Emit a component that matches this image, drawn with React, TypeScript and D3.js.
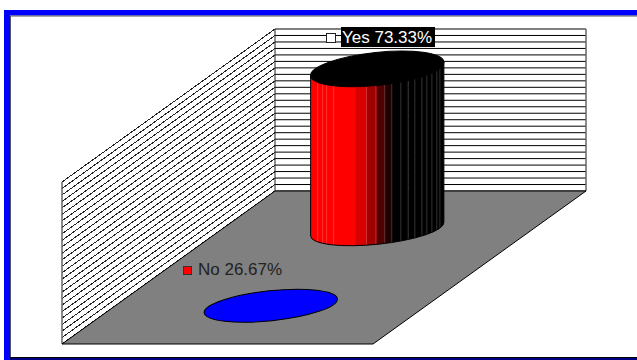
import React from "react";
import * as d3 from "d3";

// Share of answers per category
const categories = ["Yes", "No"];
const percentages = [73.33, 26.67];
const seriesFills = ["#ff0000", "#0000ff"];
const legendKeyFills = ["#ffffff", "#ff0000"];

// Value axis of the 3-D box and its number of grid intervals
const axisDomain = [26.67, 73.8];
const gridIntervals = 25;

// Cylinder side shading: left edge of each facet (fraction of diameter) and its colour
const facetStops = [0, 0.338, 0.42, 0.496, 0.556, 0.609, 0.677, 0.732, 0.782, 0.835, 0.872, 0.91, 0.947];
const facetShades = ["#ff0000", "#d80000", "#a00000", "#500000", "#200000", "#000000", "#000000", "#000000", "#000000", "#000000", "#000000", "#000000", "#000000"];
// Thin highlights between the narrow facets
const seamStops = [0.053, 0.09, 0.12, 0.173, 0.42, 0.49, 0.556, 0.609, 0.677, 0.732, 0.782, 0.835, 0.872, 0.91, 0.947, 0.97];

const WIDTH = 637;
const HEIGHT = 360;

// Box corners in screen space
const backLeft = { x: 275, y: 191 };
const wallHeight = 162;
const boxWidth = 311;
const depthDx = 213;
const depthDy = 153;

const heightScale = d3.scaleLinear().domain(axisDomain).range([0, wallHeight]);
const gridValues = d3.range(gridIntervals + 1).map((i) => i / gridIntervals);
const gridY = d3.scaleLinear().domain([0, 1]).range([backLeft.y, backLeft.y - wallHeight]);

// Depth position on the floor: 0 at the front edge, 1 at the back wall
const depthScale = d3.scaleBand().domain(["No", "Yes"]).range([0, 1]);

function floorPoint(u: number, v: number) {
  return {
    x: backLeft.x - depthDx + boxWidth * u + depthDx * v,
    y: backLeft.y + depthDy - depthDy * v,
  };
}

const RX = 67;
const RY = 15;
const CAP_RY = 16.5;
const TILT = -6;
const tiltRad = (TILT * Math.PI) / 180;
const edgeDx = RX * Math.cos(tiltRad);
const edgeDy = RX * Math.sin(tiltRad);

const line = d3.line();

export default function App() {
  const yesIdx = categories.indexOf("Yes");
  const noIdx = categories.indexOf("No");
  const v = (name: string) => depthScale(name)! + depthScale.bandwidth() / 2;
  const yesBase = floorPoint(0.5, v("Yes"));
  const noBase = floorPoint(0.5, v("No"));
  const yesH = heightScale(percentages[yesIdx]);
  const noH = heightScale(percentages[noIdx]);
  const topY = yesBase.y - yesH;

  const bodyPath =
    `M${yesBase.x - edgeDx},${topY - edgeDy}` +
    `L${yesBase.x - edgeDx},${yesBase.y - edgeDy}` +
    `A${RX},${RY} ${TILT} 0 0 ${yesBase.x + edgeDx},${yesBase.y + edgeDy}` +
    `L${yesBase.x + edgeDx},${topY + edgeDy}Z`;

  const facetX = d3
    .scaleLinear()
    .domain([0, 1])
    .range([yesBase.x - edgeDx, yesBase.x + edgeDx]);

  const floorPath =
    line([
      [backLeft.x, backLeft.y],
      [backLeft.x + boxWidth, backLeft.y],
      [backLeft.x + boxWidth - depthDx, backLeft.y + depthDy],
      [backLeft.x - depthDx, backLeft.y + depthDy],
    ]) + "Z";

  const top = backLeft.y - wallHeight;

  return (
    <svg
      width={WIDTH}
      height={HEIGHT}
      viewBox={`0 0 ${WIDTH} ${HEIGHT}`}
      style={{ position: "absolute", left: 0, top: 0, display: "block" }}
      fontFamily="'Liberation Sans', Arial, sans-serif"
    >
      <defs>
        <clipPath id="cylinder-side">
          <path d={bodyPath} />
        </clipPath>
      </defs>
      <rect width={WIDTH} height={HEIGHT} fill="#ffffff" />

      {/* Chart frame */}
      <rect x={4} y={10} width={WIDTH - 4} height={HEIGHT - 10} fill="#0000ff" />
      <rect x={10} y={358} width={WIDTH - 10} height={2} fill="#000080" />
      <rect x={10} y={15.5} width={WIDTH - 10} height={342} fill="#ffffff" />
      <path d={`M10.5,358V16H${WIDTH}`} fill="none" stroke="#555555" strokeWidth={1} />
      <path d={`M10,357.5H${WIDTH}`} fill="none" stroke="#000000" strokeWidth={1} />

      {/* Back and side wall grid */}
      {gridValues.map((t) => {
        const y = gridY(t);
        return (
          <g key={t} stroke="#000000" strokeWidth={1}>
            <line x1={backLeft.x} x2={backLeft.x + boxWidth} y1={y} y2={y} />
            <line x1={backLeft.x - depthDx} x2={backLeft.x} y1={y + depthDy} y2={y} shapeRendering="crispEdges" stroke="#222222" />
          </g>
        );
      })}
      <line x1={backLeft.x} x2={backLeft.x} y1={top} y2={backLeft.y} stroke="#222222" />
      <line x1={backLeft.x + boxWidth} x2={backLeft.x + boxWidth} y1={top} y2={backLeft.y} stroke="#666666" strokeWidth={1.5} />
      <line x1={backLeft.x - depthDx} x2={backLeft.x - depthDx} y1={top + depthDy} y2={backLeft.y + depthDy} stroke="#666666" strokeWidth={1.5} />

      {/* Floor */}
      <path d={floorPath} fill="#808080" stroke="#000000" strokeWidth={1} />

      {/* No: flat disc on the floor */}
      <ellipse
        cx={noBase.x}
        cy={noBase.y - noH}
        rx={RX}
        ry={RY}
        transform={`rotate(${TILT} ${noBase.x} ${noBase.y - noH})`}
        fill={seriesFills[noIdx]}
        stroke="#000000"
      />

      {/* Yes: cylinder */}
      <g clipPath="url(#cylinder-side)">
        {facetStops.map((s, i) => {
          const next = i + 1 < facetStops.length ? facetStops[i + 1] : 1;
          return (
            <rect
              key={s}
              x={facetX(s)}
              y={topY - RY * 2}
              width={facetX(next) - facetX(s) + 0.5}
              height={yesH + RY * 4}
              fill={i === 0 ? seriesFills[yesIdx] : facetShades[i]}
            />
          );
        })}
        {seamStops.map((s) => (
          <line
            key={s}
            x1={facetX(s)}
            x2={facetX(s)}
            y1={topY - RY * 2}
            y2={yesBase.y + RY * 2}
            stroke="#ffffff"
            strokeOpacity={0.2}
          />
        ))}
      </g>
      <path d={bodyPath} fill="none" stroke="#000000" />
      <ellipse
        cx={yesBase.x}
        cy={topY}
        rx={RX}
        ry={CAP_RY}
        transform={`rotate(${TILT} ${yesBase.x} ${topY})`}
        fill="#000000"
        stroke="#000000"
      />

      {/* Data labels with legend keys */}
      <rect x={326.5} y={33.5} width={9} height={9} fill={legendKeyFills[yesIdx]} stroke="#222222" />
      <rect x={341} y={27} width={94} height={20} fill="#000000" />
      <text x={342} y={42.5} fontSize={17} fill="#ffffff">
        {`${categories[yesIdx]} ${percentages[yesIdx].toFixed(2)}%`}
      </text>
      <rect x={183.5} y={266.5} width={8} height={8} fill={legendKeyFills[noIdx]} stroke="#333333" />
      <text x={198} y={275} fontSize={17} fill="#222222">
        {`${categories[noIdx]} ${percentages[noIdx].toFixed(2)}%`}
      </text>
    </svg>
  );
}
